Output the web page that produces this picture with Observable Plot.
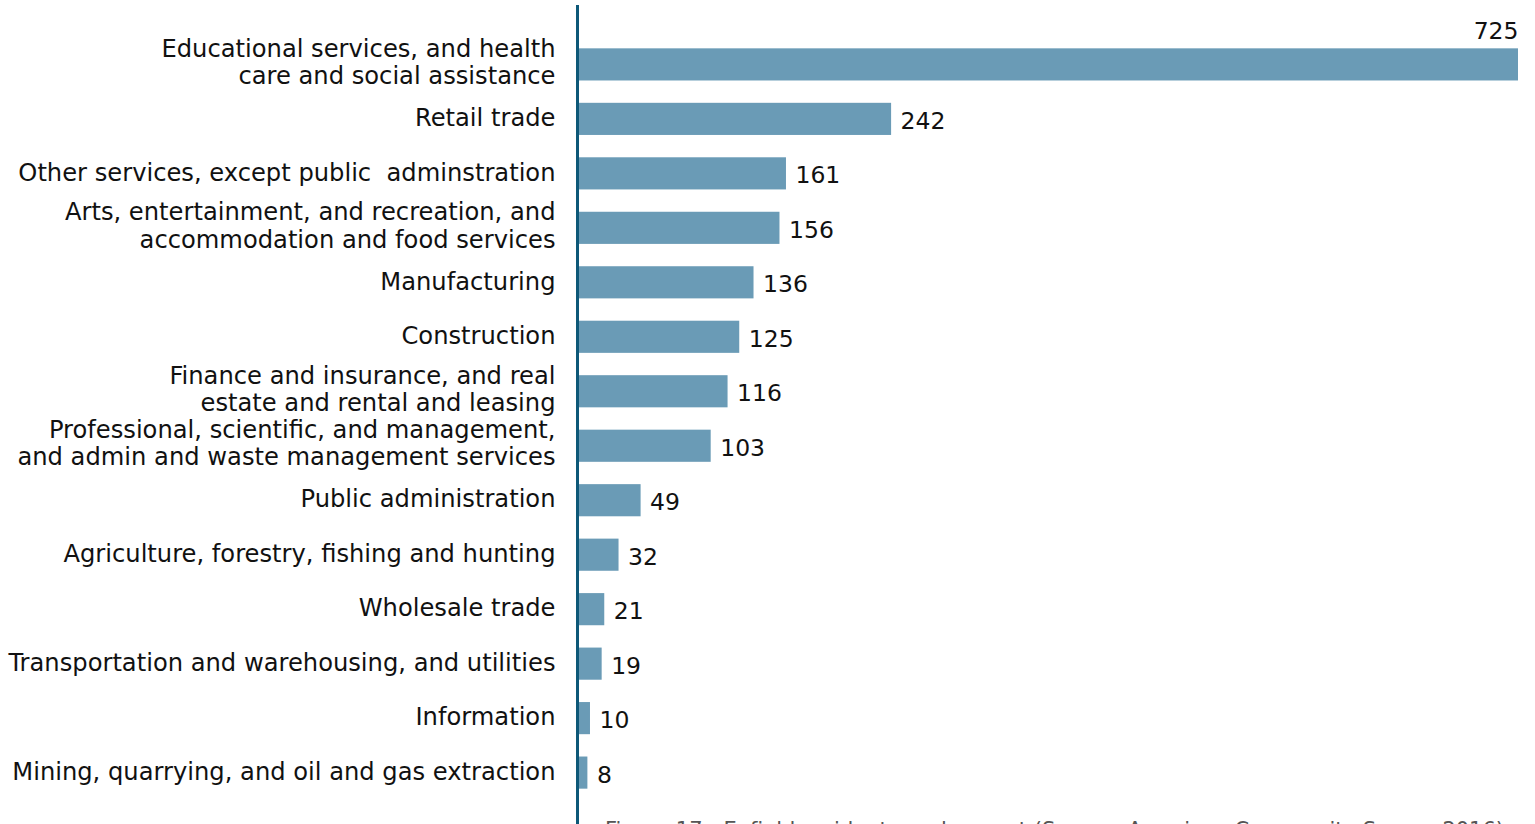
<!DOCTYPE html>
<html>
<head>
<meta charset="utf-8">
<script src="https://cdn.jsdelivr.net/npm/d3@7"></script>
<script src="https://cdn.jsdelivr.net/npm/@observablehq/plot@0.6"></script>
<style>
  html, body { margin: 0; padding: 0; background: #fff; overflow: hidden; }
  #chart svg { display: block; }
  #caption {
    margin-left: 576px;
    border-left: 3px solid #0d5878;
    padding-left: 26px;
    padding-top: 5px;
    height: 40px;
    font-family: "DejaVu Sans", sans-serif;
    font-size: 21px;
    color: #555;
    line-height: 26px;
    white-space: nowrap;
  }
</style>
</head>
<body>
<div id="chart"></div>
<div id="caption">Figure 17 - Enfield resident employment (Source: American Community Survey 2016)</div>
<script>
const industries = [
  "Educational services, and health\ncare and social assistance",
  "Retail trade",
  "Other services, except public  adminstration",
  "Arts, entertainment, and recreation, and\naccommodation and food services",
  "Manufacturing",
  "Construction",
  "Finance and insurance, and real\nestate and rental and leasing",
  "Professional, scientific, and management,\nand admin and waste management services",
  "Public administration",
  "Agriculture, forestry, fishing and hunting",
  "Wholesale trade",
  "Transportation and warehousing, and utilities",
  "Information",
  "Mining, quarrying, and oil and gas extraction"
];
const employees = [725, 242, 161, 156, 136, 125, 116, 103, 49, 32, 21, 19, 10, 8];

const data = industries.map((name, i) => ({name, value: employees[i], first: i === 0, multi: name.includes("\n")}));

const font = "'DejaVu Sans', sans-serif";

const chart = Plot.plot({
  width: 1535,
  height: 812,
  marginLeft: 577,
  marginRight: 17,
  marginTop: 26,
  marginBottom: 1,
  style: {fontFamily: font, fontSize: "22px", color: "#111", background: "#fff"},
  x: {domain: [0, 725], axis: null},
  y: {domain: industries, padding: 0.41, round: false, axis: null},
  marks: [
    Plot.barX(data, {x: "value", y: "name", fill: "#6a9bb6"}),
    Plot.ruleX([0], {stroke: "#0d5878", strokeWidth: 3, insetTop: -21, insetBottom: -1}),
    Plot.text(data.filter(d => !d.multi), {x: 0, y: "name", text: "name", textAnchor: "end", dx: -22, dy: -1, fontSize: 24.2, fill: "#111"}),
    Plot.text(data.filter(d => d.multi), {x: 0, y: "name", text: "name", textAnchor: "end", dx: -22, dy: -3, lineHeight: 1.12, fontSize: 24.2, fill: "#111"}),
    Plot.text(data.filter(d => !d.first), {x: "value", y: "name", text: d => String(d.value), textAnchor: "start", dx: 9, dy: 2, fontSize: 23.5, fill: "#111"}),
    Plot.text(data.filter(d => d.first), {x: "value", y: "name", text: d => String(d.value), textAnchor: "end", dx: 0, dy: -33, fontSize: 23.5, fill: "#111"})
  ]
});
document.getElementById("chart").append(chart);
</script>
</body>
</html>
